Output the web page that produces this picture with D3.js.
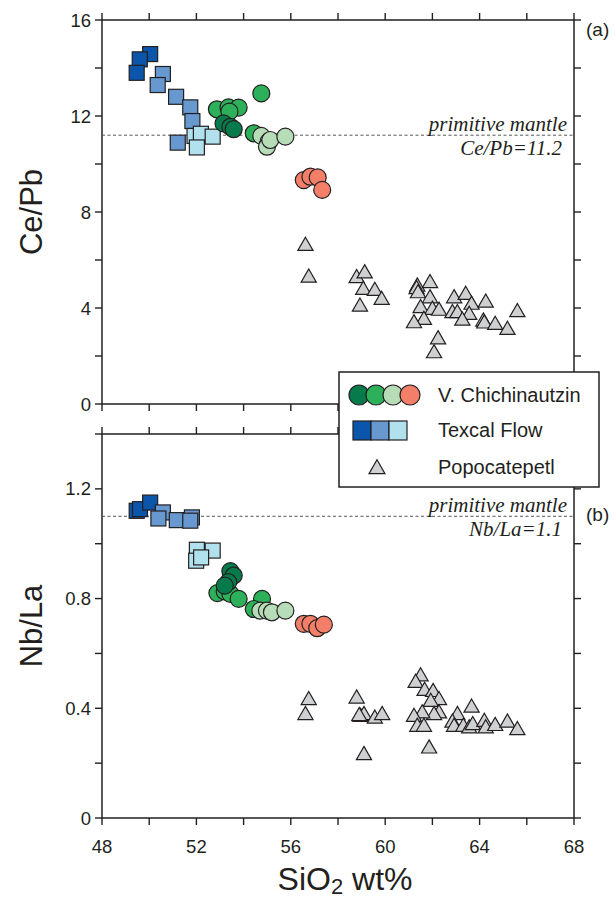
<!DOCTYPE html>
<html>
<head>
<meta charset="utf-8">
<script src="https://cdn.jsdelivr.net/npm/d3@7"></script>
<style>
  html, body { margin: 0; padding: 0; background: #fff; }
  svg { display: block; }
  text { font-family: "Liberation Sans", Arial, Helvetica, sans-serif; fill: #231f20; }
  .note { font-family: "Liberation Serif", "Times New Roman", serif; font-style: italic; }
</style>
</head>
<body>
<svg id="chart" width="615" height="902"></svg>
<script>
// ---- Ce/Pb vs SiO2 (panel a) : [SiO2, Ce/Pb]
const cePbTexcalDark  = [[50.04, 14.58], [49.6, 14.36], [49.47, 13.8]];
const cePbTexcalMid   = [[50.58, 13.75], [50.36, 13.29], [51.14, 12.8], [51.74, 12.36], [51.83, 11.79], [51.21, 10.89]];
const cePbTexcalLight = [[51.92, 11.17], [52.19, 11.26], [52.69, 11.14], [52.02, 10.69]];
const cePbChichGreen  = [[52.87, 12.28], [53.36, 12.36], [53.79, 12.35], [53.4, 12.18], [54.75, 12.94], [54.43, 11.28]];
const cePbChichDark   = [[53.15, 11.69], [53.44, 11.55], [53.58, 11.45]];
const cePbChichLight  = [[54.75, 11.17], [55.06, 10.93], [54.99, 10.72], [55.13, 11.0], [55.77, 11.14]];
const cePbChichSalmon = [[56.55, 9.33], [56.83, 9.47], [57.14, 9.44], [57.33, 8.92]];
const cePbPopo = [
  [56.62, 6.58], [56.76, 5.26], [58.79, 5.24], [59.13, 5.44], [59.07, 4.75], [59.56, 4.71],
  [59.85, 4.33], [58.93, 4.05], [61.36, 4.89], [61.9, 5.03], [61.33, 4.78], [61.39, 4.61],
  [61.9, 4.4], [61.5, 3.99], [62.0, 3.92], [62.28, 3.88], [61.64, 3.5], [61.22, 3.36],
  [62.92, 4.4], [63.41, 4.54], [63.66, 4.13], [64.26, 4.22], [62.85, 3.78], [63.06, 3.78],
  [63.56, 3.71], [63.27, 3.47], [64.16, 3.43], [64.2, 3.35], [64.66, 3.29], [65.18, 3.08],
  [65.6, 3.82], [62.24, 2.69], [62.07, 2.11]
];

// ---- Nb/La vs SiO2 (panel b) : [SiO2, Nb/La]
const nbLaTexcalDark  = [[49.47, 1.12], [49.61, 1.126], [50.04, 1.15]];
const nbLaTexcalMid   = [[50.58, 1.114], [50.39, 1.092], [51.17, 1.086], [51.81, 1.096], [51.74, 1.084]];
const nbLaTexcalLight = [[52.02, 0.978], [52.69, 0.975], [51.99, 0.938], [52.2, 0.95]];
const nbLaChichGreen  = [[52.89, 0.82], [53.2, 0.826], [53.44, 0.817], [53.79, 0.799], [54.78, 0.799], [54.43, 0.762]];
const nbLaChichDark   = [[53.44, 0.9], [53.58, 0.884], [53.35, 0.86], [53.2, 0.847]];
const nbLaChichLight  = [[54.71, 0.756], [54.99, 0.756], [55.2, 0.75], [55.77, 0.756]];
const nbLaChichSalmon = [[56.55, 0.708], [56.83, 0.708], [57.12, 0.692], [57.4, 0.705]];
const nbLaPopo = [
  [56.76, 0.429], [56.62, 0.375], [58.79, 0.435], [58.96, 0.368], [59.1, 0.375], [58.9, 0.371],
  [59.56, 0.362], [59.87, 0.375], [59.1, 0.229], [61.5, 0.516], [61.29, 0.492], [61.67, 0.463],
  [62.03, 0.459], [62.28, 0.429], [61.93, 0.423], [62.28, 0.381], [62.07, 0.375], [61.57, 0.381],
  [61.22, 0.368], [61.36, 0.332], [61.64, 0.332], [63.66, 0.402], [63.06, 0.375], [62.85, 0.347],
  [62.92, 0.332], [63.31, 0.332], [63.56, 0.326], [63.71, 0.338], [64.2, 0.35], [64.26, 0.326],
  [64.66, 0.335], [65.18, 0.347], [65.6, 0.32], [61.86, 0.253]
];

// ---- axes and reference values
const xDomain = [48, 68];
const xTickLabels = [48, 52, 56, 60, 64, 68];
const cePbDomain = [0, 16];
const cePbTickLabels = [0, 4, 8, 12, 16];
const nbLaDomain = [0, 1.4];
const nbLaTickLabels = [0, 0.4, 0.8, 1.2];
const cePbMantle = 11.2;
const nbLaMantle = 1.1;

const legendNames = ["V. Chichinautzin", "Texcal Flow", "Popocatepetl"];

const colors = {
  chichDark: "#067a4b", chichGreen: "#2db05a", chichLight: "#b6ddb8", chichSalmon: "#f37f68",
  texDark: "#0b56aa", texMid: "#6799d0", texLight: "#b2e1ee", popo: "#cfd0d2"
};

const svg = d3.select("#chart");
const left = 102, right = 574;
const x = d3.scaleLinear().domain(xDomain).range([left, right]);
const yA = d3.scaleLinear().domain(cePbDomain).range([404, 20]);
const yB = d3.scaleLinear().domain(nbLaDomain).range([818, 434]);

const axisColor = "#231f20";

function frame(y, majorY, minorStep, fmt, showX) {
  const g = svg.append("g");
  const [y0, y1] = y.range();
  const xs = d3.range(xDomain[0], xDomain[1] + 0.001, 2);
  const ys = d3.range(y.domain()[0], y.domain()[1] + 1e-6, minorStep);
  const tl = 7;
  const ticks = g.append("g").attr("stroke", axisColor).attr("stroke-width", 1.4);
  xs.forEach(v => {
    ticks.append("line").attr("x1", x(v)).attr("x2", x(v)).attr("y1", y0).attr("y2", y0 + tl);
    ticks.append("line").attr("x1", x(v)).attr("x2", x(v)).attr("y1", y1).attr("y2", y1 - tl);
  });
  ys.forEach(v => {
    ticks.append("line").attr("x1", left - tl).attr("x2", left).attr("y1", y(v)).attr("y2", y(v));
    ticks.append("line").attr("x1", right).attr("x2", right + tl).attr("y1", y(v)).attr("y2", y(v));
  });
  g.append("rect").attr("x", left).attr("y", y1).attr("width", right - left).attr("height", y0 - y1)
    .attr("fill", "none").attr("stroke", axisColor).attr("stroke-width", 1.5);
  g.selectAll("text.yl").data(majorY).join("text")
    .attr("x", left - 11).attr("y", d => y(d) + 6.5)
    .attr("text-anchor", "end").attr("font-size", 18.5).text(fmt);
  if (showX) {
    g.selectAll("text.xl").data(xTickLabels).join("text")
      .attr("x", d => x(d)).attr("y", y0 + 35)
      .attr("text-anchor", "middle").attr("font-size", 18.5).text(d => d);
  }
}

frame(yA, cePbTickLabels, 2, d => d, false);
frame(yB, nbLaTickLabels, 0.2, d => d === 0 ? "0" : d3.format(".1f")(d), true);

// primitive mantle reference lines
function mantle(y, val, label) {
  svg.append("line").attr("x1", left).attr("x2", right).attr("y1", y(val)).attr("y2", y(val))
    .attr("stroke", "#555").attr("stroke-width", 1).attr("stroke-dasharray", "3,2.5");
  svg.append("text").attr("class", "note").attr("x", 567).attr("y", y(val) - 4)
    .attr("text-anchor", "end").attr("font-size", 21).text("primitive mantle");
  svg.append("text").attr("class", "note").attr("x", 562).attr("y", y(val) + 20)
    .attr("text-anchor", "end").attr("font-size", 21).text(label);
}
mantle(yA, cePbMantle, "Ce/Pb=11.2");
mantle(yB, nbLaMantle, "Nb/La=1.1");

const stroke = "#231f20";
const tri = d3.symbol().type(d3.symbolTriangle).size(100);

function triangles(y, data) {
  svg.append("g").selectAll("path").data(data).join("path")
    .attr("d", tri).attr("transform", d => `translate(${x(d[0])},${y(d[1])})`)
    .attr("fill", colors.popo).attr("stroke", stroke).attr("stroke-width", 1.2);
}
function squares(y, data, fill) {
  const s = 15;
  svg.append("g").selectAll("rect").data(data).join("rect")
    .attr("x", d => x(d[0]) - s / 2).attr("y", d => y(d[1]) - s / 2)
    .attr("width", s).attr("height", s)
    .attr("fill", fill).attr("stroke", stroke).attr("stroke-width", 1.2);
}
function circles(y, data, fill) {
  svg.append("g").selectAll("circle").data(data).join("circle")
    .attr("cx", d => x(d[0])).attr("cy", d => y(d[1])).attr("r", 8.5)
    .attr("fill", fill).attr("stroke", stroke).attr("stroke-width", 1.2);
}

// panel (a)
triangles(yA, cePbPopo);
squares(yA, cePbTexcalDark, colors.texDark);
squares(yA, cePbTexcalMid, colors.texMid);
squares(yA, cePbTexcalLight, colors.texLight);
circles(yA, cePbChichGreen, colors.chichGreen);
circles(yA, cePbChichDark, colors.chichDark);
circles(yA, cePbChichLight, colors.chichLight);
circles(yA, cePbChichSalmon, colors.chichSalmon);

// panel (b)
triangles(yB, nbLaPopo);
squares(yB, nbLaTexcalDark, colors.texDark);
squares(yB, nbLaTexcalMid, colors.texMid);
squares(yB, nbLaTexcalLight, colors.texLight);
circles(yB, nbLaChichGreen, colors.chichGreen);
circles(yB, nbLaChichDark, colors.chichDark);
circles(yB, nbLaChichLight, colors.chichLight);
circles(yB, nbLaChichSalmon, colors.chichSalmon);

// panel letters
svg.append("text").attr("x", 586).attr("y", 36).attr("font-size", 19).text("(a)");
svg.append("text").attr("x", 586).attr("y", 521).attr("font-size", 19).text("(b)");

// axis titles
svg.append("text").attr("transform", `translate(42,${(yA(0) + yA(16)) / 2}) rotate(-90)`)
  .attr("text-anchor", "middle").attr("font-size", 31).text("Ce/Pb");
svg.append("text").attr("transform", `translate(42,${(yB(0) + yB(1.4)) / 2}) rotate(-90)`)
  .attr("text-anchor", "middle").attr("font-size", 31).text("Nb/La");
const xt = svg.append("text").attr("x", (left + right) / 2 + 7).attr("y", 890)
  .attr("text-anchor", "middle").attr("font-size", 32);
xt.append("tspan").text("SiO");
xt.append("tspan").attr("font-size", 22).attr("dy", 4).text("2");
xt.append("tspan").attr("dy", -4).text(" wt%");

// legend
const lg = svg.append("g");
lg.append("rect").attr("x", 339).attr("y", 372).attr("width", 260).attr("height", 115)
  .attr("fill", "#fff").attr("stroke", axisColor).attr("stroke-width", 1.5);
[colors.chichDark, colors.chichGreen, colors.chichLight, colors.chichSalmon].forEach((c, i) => {
  lg.append("circle").attr("cx", 359 + i * 17).attr("cy", 395).attr("r", 10)
    .attr("fill", c).attr("stroke", stroke).attr("stroke-width", 1.2);
});
[colors.texDark, colors.texMid, colors.texLight].forEach((c, i) => {
  lg.append("rect").attr("x", 353 + i * 18).attr("y", 421).attr("width", 18).attr("height", 19)
    .attr("fill", c).attr("stroke", stroke).attr("stroke-width", 1.2);
});
lg.append("path").attr("d", d3.symbol().type(d3.symbolTriangle).size(110))
  .attr("transform", "translate(377,469)")
  .attr("fill", colors.popo).attr("stroke", stroke).attr("stroke-width", 1.2);
legendNames.forEach((t, i) => {
  lg.append("text").attr("x", 438).attr("y", [402, 437, 474][i]).attr("font-size", 20).text(t);
});
</script>
</body>
</html>
